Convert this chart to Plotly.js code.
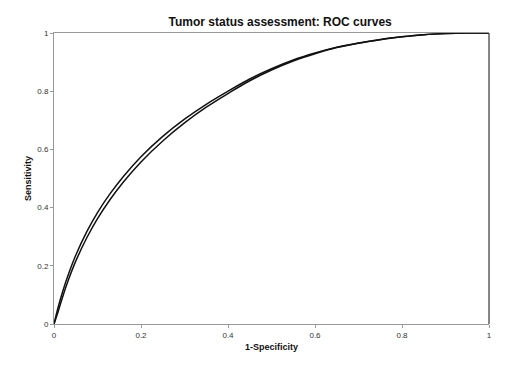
<!DOCTYPE html>
<html>
<head>
<meta charset="utf-8">
<script src="https://cdn.plot.ly/plotly-3.0.1.min.js"></script>
<style>html,body{margin:0;padding:0;background:#fff;}#chart{width:511px;height:367px;}</style>
</head>
<body>
<div id="chart"></div>
<script>
// 1-Specificity values shared by both curves
var fpr = [0, 0.01, 0.02, 0.032, 0.05, 0.076, 0.1, 0.129, 0.16, 0.2, 0.25, 0.3, 0.35, 0.4, 0.45, 0.5, 0.55, 0.6, 0.65, 0.7, 0.75, 0.8, 0.85, 0.9, 0.95, 1];
// Sensitivity, curve A (upper)
var sensA = [0, 0.06, 0.112, 0.166, 0.236, 0.319, 0.383, 0.448, 0.508, 0.575, 0.645, 0.704, 0.755, 0.800, 0.842, 0.877, 0.907, 0.931, 0.951, 0.966, 0.978, 0.987, 0.994, 0.998, 1, 1];
// Sensitivity, curve B (lower)
var sensB = [0, 0.045, 0.094, 0.147, 0.216, 0.298, 0.362, 0.428, 0.489, 0.557, 0.629, 0.691, 0.745, 0.792, 0.836, 0.873, 0.904, 0.929, 0.950, 0.965, 0.977, 0.987, 0.994, 0.998, 1, 1];
var xTicks = [0, 0.2, 0.4, 0.6, 0.8, 1];
var yTicks = [0, 0.2, 0.4, 0.6, 0.8, 1];

var font = "Arial, 'Liberation Sans', sans-serif";
var traces = [
  {x: fpr, y: sensA, mode: 'lines', line: {color: '#111', width: 1.5, shape: 'spline', smoothing: 1}, name: 'A', hoverinfo: 'x+y'},
  {x: fpr, y: sensB, mode: 'lines', line: {color: '#111', width: 1.5, shape: 'spline', smoothing: 1}, name: 'B', hoverinfo: 'x+y'}
];
var layout = {
  width: 511, height: 367,
  margin: {l: 54, r: 22, t: 33, b: 43},
  paper_bgcolor: '#fff', plot_bgcolor: '#fff',
  showlegend: false,
  font: {family: font, color: '#222', size: 8},
  title: {text: 'Tumor status assessment: ROC curves', x: 0.52, xref: 'paper', xanchor: 'center', y: 0.94, yref: 'container', yanchor: 'middle',
          font: {family: font, size: 12, weight: 'bold', color: '#111'}},
  xaxis: {range: [0, 1], tickvals: xTicks, ticktext: xTicks.map(String), showgrid: false, zeroline: false,
          showline: true, linecolor: '#999', linewidth: 1, mirror: true,
          ticks: 'outside', ticklen: 3, tickcolor: '#999', tickfont: {size: 8, color: '#333'},
          title: {text: '1-Specificity', standoff: 5, font: {family: font, size: 9, weight: 'bold', color: '#111'}}},
  yaxis: {range: [0, 1], tickvals: yTicks, ticktext: yTicks.map(String), showgrid: false, zeroline: false,
          showline: true, linecolor: '#999', linewidth: 1,
          ticks: 'outside', ticklen: 3, tickcolor: '#999', tickfont: {size: 8, color: '#333'},
          title: {text: 'Sensitivity', standoff: 4, font: {family: font, size: 9, weight: 'bold', color: '#111'}}},
  shapes: [{type: 'line', xref: 'paper', yref: 'paper', x0: 1, x1: 1, y0: 0, y1: 1, line: {color: '#444', width: 1.3}}]
};
Plotly.newPlot('chart', traces, layout, {staticPlot: true, displayModeBar: false});
</script>
</body>
</html>
